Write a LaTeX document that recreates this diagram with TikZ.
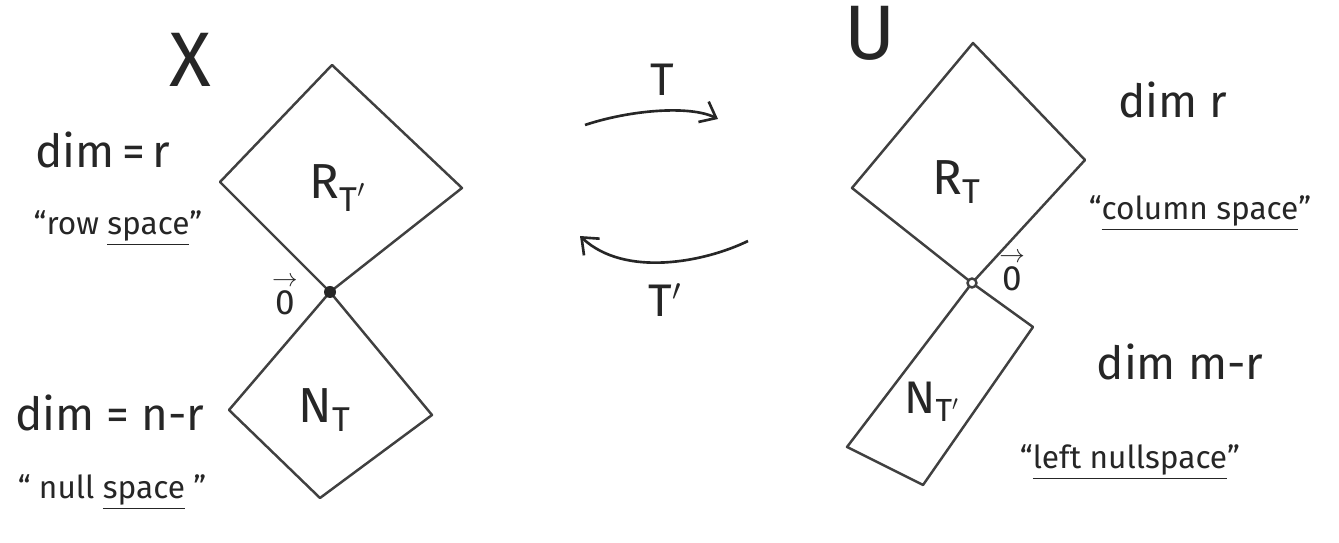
\documentclass[tikz,border=0pt]{standalone}
\usepackage{fontspec}
\setmainfont{Fira Sans}
\usetikzlibrary{arrows.meta}
\newcommand{\zerovec}{\shortstack{\scalebox{0.7}{$\rightarrow$}\\[-1pt]0}}
\begin{document}
\begin{tikzpicture}[x=0.02cm,y=-0.02cm,
  edge/.style={line width=1.4pt, draw=black!75, line join=round},
  arr/.style={line width=1.5pt, draw=black!85, -{Straight Barb[length=8pt,width=13pt,line width=1.5pt]}},
  lbl/.style={font=\fontsize{26}{30}\selectfont, text=black!85, inner sep=0pt},
  qlbl/.style={font=\fontsize{18}{22}\selectfont, text=black!85, inner sep=0pt},
  zlbl/.style={font=\fontsize{20}{22}\selectfont, text=black!85, inner sep=0pt},
  big/.style={font=\fontsize{44}{48}\selectfont, text=black!85, inner sep=0pt},
  sub/.style={font=\fontsize{28}{32}\selectfont, text=black!85, inner sep=0pt}]
\useasboundingbox (0,0) rectangle (1339,543);
\fill[white] (0,0) rectangle (1339,543);

% ---------- left space X ----------
\node[big] (X) at (190,60) {X};
\coordinate (o1) at (330,292);
\coordinate (r1t) at (332,65);
\coordinate (r1r) at (462,188);
\coordinate (r1l) at (220,182);
\coordinate (n1l) at (229,410);
\coordinate (n1r) at (432,415);
\coordinate (n1b) at (320,498);
\draw[edge] (o1) -- (r1l) -- (r1t) -- (r1r) -- cycle;
\draw[edge] (o1) -- (n1l) -- (n1b) -- (n1r) -- cycle;
\fill[black!85] (o1) circle (6);
\node[sub] (RTp) at (338,188) {R\textsubscript{T$'$}};
\node[sub] (NT) at (325,410) {N\textsubscript{T}};
\node[zlbl] (zero1) at (285,296) {\zerovec};
\node[lbl] (dimr1) at (103,150) {dim\,=\,r};
\node[qlbl] (row) at (118,228) {“row \underline{space}”};
\node[lbl] (dimnr) at (110,413) {dim = n-r};
\node[qlbl] (null) at (112,492) {“ null \underline{space} ”};

% ---------- maps ----------
\coordinate (ta) at (585,125);
\coordinate (tb) at (718,119);
\draw[arr] (ta) .. controls (630,110) and (690,105) .. (tb);
\node[lbl] (T) at (662,80) {T};
\coordinate (sa) at (748,241);
\coordinate (sb) at (580,236);
\draw[arr] (sa) .. controls (705,262) and (625,278) .. (sb);
\node[lbl] (Tp) at (665,300) {T$'$};

% ---------- right space U ----------
\node[big] (U) at (870,33) {U};
\coordinate (o2) at (972,283);
\coordinate (r2t) at (973,43);
\coordinate (r2r) at (1085,160);
\coordinate (r2l) at (852,188);
\coordinate (n2r) at (1033,327);
\coordinate (n2b) at (923,485);
\coordinate (n2l) at (847,447);
\draw[edge] (o2) -- (r2l) -- (r2t) -- (r2r) -- cycle;
\draw[edge] (o2) -- (n2r) -- (n2b) -- (n2l) -- cycle;
\draw[edge, fill=white] (o2) circle (4.5);
\node[sub] (RT) at (957,182) {R\textsubscript{T}};
\node[sub, font=\fontsize{26}{30}\selectfont] (NTp) at (932,402) {N\textsubscript{T$'$}};
\node[zlbl] (zero2) at (1012,272) {\zerovec};
\node[lbl] (dimr2) at (1173,100) {dim r};
\node[qlbl] (col) at (1200,213) {“\underline{column space}”};
\node[lbl] (dimmr) at (1180,362) {dim m-r};
\node[qlbl] (left) at (1130,462) {“\underline{left nullspace}”};
\end{tikzpicture}
\end{document}
